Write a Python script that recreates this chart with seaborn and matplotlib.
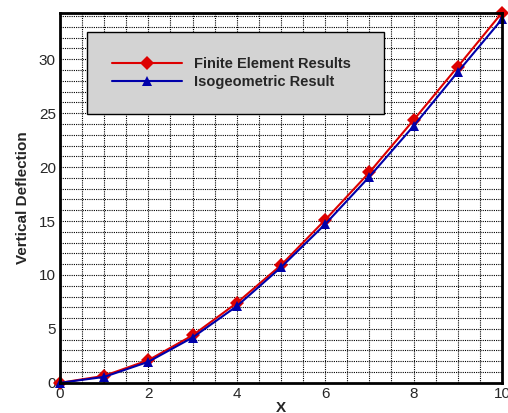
import numpy as np
import pandas as pd
import seaborn as sns
import matplotlib.pyplot as plt
from matplotlib.ticker import MultipleLocator

x = [0, 1, 2, 3, 4, 5, 6, 7, 8, 9, 10]
fe_results = [0, 0.65, 2.1, 4.4, 7.4, 10.9, 15.1, 19.5, 24.35, 29.3, 34.3]
iso_results = [0, 0.55, 1.95, 4.2, 7.1, 10.7, 14.7, 19.1, 23.8, 28.8, 33.7]

df = pd.concat([
    pd.DataFrame({'x': x, 'y': fe_results, 'series': 'Finite Element Results'}),
    pd.DataFrame({'x': x, 'y': iso_results, 'series': 'Isogeometric Result'}),
])

sns.set_style('white')
plt.rcParams['font.family'] = ['Liberation Sans', 'DejaVu Sans']

fig = plt.figure(figsize=(5.08, 4.13), dpi=100)
ax = fig.add_axes([0.118, 0.073, 0.870, 0.896])

sns.lineplot(df, x='x', y='y', hue='series', style='series',
             palette={'Finite Element Results': '#dd0000', 'Isogeometric Result': '#0000aa'},
             markers={'Finite Element Results': 'D', 'Isogeometric Result': '^'},
             dashes=False, markersize=7, markeredgewidth=0, linewidth=1.5,
             clip_on=False, ax=ax)

ax.set_xlim(0, 10)
ax.set_ylim(0, 34.3)
ax.xaxis.set_major_locator(MultipleLocator(2))
ax.xaxis.set_minor_locator(MultipleLocator(0.5))
ax.yaxis.set_major_locator(MultipleLocator(5))
ax.yaxis.set_minor_locator(MultipleLocator(1))
ax.grid(which='both', color='black', linestyle=(0, (1, 1)), linewidth=0.8)
ax.set_axisbelow(True)
ax.tick_params(which='major', direction='in', length=9, width=1.5, labelsize=11, pad=3)
ax.tick_params(which='minor', length=0)
for s in ax.spines.values():
    s.set_linewidth(2)
    s.set_color('black')

ax.set_xlabel('X', fontsize=11, fontweight='bold', labelpad=0)
ax.set_ylabel('Vertical Deflection', fontsize=11, fontweight='bold', labelpad=6)

leg = ax.legend(title=None, loc='upper left', bbox_to_anchor=(0.061, 0.949, 0.672, 0.0),
                mode='expand', borderaxespad=0, frameon=True, fancybox=False,
                facecolor='#d3d3d3', edgecolor='black', framealpha=1,
                prop={'weight': 'bold', 'size': 10.5}, handlelength=4.8,
                borderpad=1.75, labelspacing=0.25, handletextpad=0.8)
leg.get_frame().set_linewidth(1)

fig.savefig('out.png', dpi=100)
